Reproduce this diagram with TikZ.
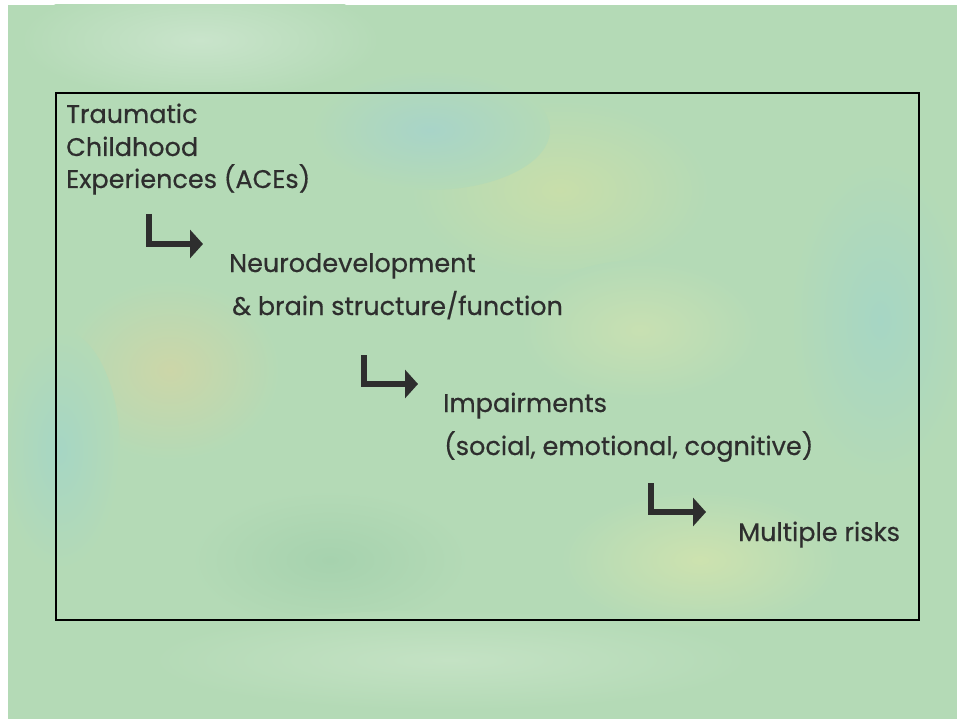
\documentclass[tikz,border=0pt]{standalone}
\usepackage{fontspec}
\setmainfont{Poppins}
\newfontfamily\lblfont{Poppins}[FakeBold=0.5]
\usetikzlibrary{arrows.meta}
\definecolor{bgbase}{HTML}{B4DAB6}
\definecolor{ink}{HTML}{2E2E2E}
\definecolor{cpale}{HTML}{C9E4CB}
\definecolor{cyel}{HTML}{C8DEAA}
\definecolor{cteal}{HTML}{A8D4C8}
\definecolor{cpeach}{HTML}{CCD6A8}
\definecolor{cteal2}{HTML}{A6D6C4}
\definecolor{cgreen}{HTML}{A6D2AE}
\definecolor{cyel2}{HTML}{CDE2AF}
\definecolor{cpale2}{HTML}{C4E2C4}
\definecolor{cyel3}{HTML}{C8E0B2}
\tikzset{
  lbl/.style={anchor=base west, inner sep=0pt, text=ink, font=\lblfont\fontsize{25.5}{25.5}\selectfont},
  elbow/.style={draw=ink, line width=6pt, line cap=butt, line join=miter, -{Triangle[length=13pt,width=28pt]}},
  blob/.style={inner color=#1, outer color=bgbase, draw=none}
}
\begin{document}
\begin{tikzpicture}[x=1pt,y=-1pt]
\useasboundingbox (0,0) rectangle (957,719);
\fill[white] (0,0) rectangle (957,719);
\fill[bgbase] (8,5) rectangle (958,720);
\begin{scope}
\clip (8,5) rectangle (958,720);
\shade[blob=cpale] (200,40) ellipse (180 and 60);
\shade[blob=cyel] (560,190) ellipse (150 and 90);
\shade[blob=cteal] (430,130) ellipse (120 and 60);
\shade[blob=cpeach] (170,370) ellipse (110 and 90);
\shade[blob=cteal2] (880,320) ellipse (90 and 160);
\shade[blob=cgreen] (330,560) ellipse (140 and 70);
\shade[blob=cyel2] (700,560) ellipse (140 and 70);
\shade[blob=cpale2] (450,660) ellipse (300 and 50);
\shade[blob=cteal2] (60,450) ellipse (60 and 120);
\shade[blob=cyel3] (640,330) ellipse (120 and 70);
\end{scope}
\draw[black, line width=2pt] (56,93) rectangle (919,620);

\node[lbl] (t1) at (66,123) {Traumatic};
\node[lbl] (t2) at (66,156) {Childhood};
\node[lbl] (t3) at (66,188) {Experiences (ACEs)};
\node[lbl] (n1) at (229,272) {Neurodevelopment};
\node[lbl] (n2) at (232,315) {\& brain structure/function};
\node[lbl] (i1) at (443,412) {Impairments};
\node[lbl] (i2) at (444,455) {(social, emotional, cognitive)};
\node[lbl] (m1) at (738,541) {Multiple risks};

\coordinate (a1s) at (149,214);
\coordinate (a1t) at (203,244);
\coordinate (a2s) at (364,355);
\coordinate (a2t) at (418,384);
\coordinate (a3s) at (651,483);
\coordinate (a3t) at (706,512);
\draw[elbow] (a1s) |- (a1t);
\draw[elbow] (a2s) |- (a2t);
\draw[elbow] (a3s) |- (a3t);
\end{tikzpicture}
\end{document}
